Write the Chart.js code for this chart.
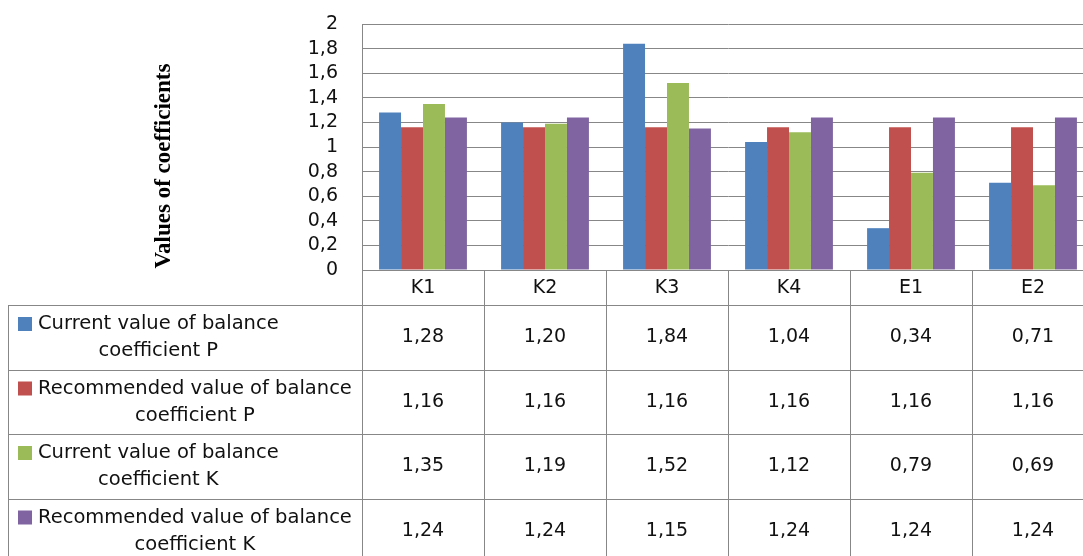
<!DOCTYPE html>
<html>
<head>
<meta charset="utf-8">
<script src="https://cdn.jsdelivr.net/npm/chart.js@4.4.1/dist/chart.umd.min.js"></script>
<style>
    html, body { margin: 0; padding: 0; overflow: hidden; background: #fff; }
    canvas { display: block; }
</style>
</head>
<body>
<canvas id="coeffChart" width="1100" height="556"></canvas>
<script>
// chart data
const categories = ["K1", "K2", "K3", "K4", "E1", "E2"];
const currentP = [1.28, 1.20, 1.84, 1.04, 0.34, 0.71];
const recommendedP = [1.16, 1.16, 1.16, 1.16, 1.16, 1.16];
const currentK = [1.35, 1.19, 1.52, 1.12, 0.79, 0.69];
const recommendedK = [1.24, 1.24, 1.15, 1.24, 1.24, 1.24];
const seriesLabels = [
    ["Current value of balance", "coefficient P"],
    ["Recommended value of balance", "coefficient P"],
    ["Current value of balance", "coefficient K"],
    ["Recommended value of balance", "coefficient K"]
];
const seriesColors = ["#4F81BD", "#C0504D", "#9BBB59", "#8064A2"];
const yAxisTitle = "Values of coefficients";
const yMin = 0, yMax = 2, yStep = 0.2;

const FONT = '"DejaVu Sans", Verdana, sans-serif';
const LINE = "#878787";
const fmt = v => v.toFixed(2).replace(".", ",");

// data table under the plot + the rotated axis title
const tablePlugin = {
    id: "dataTable",
    afterDraw(chart) {
        const ctx = chart.ctx;
        const x = chart.scales.x;
        const area = chart.chartArea;
        const colW = x.getPixelForValue(1) - x.getPixelForValue(0);
        const tableLeft = 8;
        const headerBottom = 305;
        const rowH = 64.5;
        const rowTops = seriesLabels.map((_, i) => headerBottom + i * rowH);
        const bottom = chart.height;
        const allSeries = [currentP, recommendedP, currentK, recommendedK];

        ctx.save();
        ctx.strokeStyle = LINE;
        ctx.lineWidth = 1;
        ctx.beginPath();
        // horizontal lines
        rowTops.forEach(y => {
            ctx.moveTo(tableLeft, Math.round(y) + 0.5);
            ctx.lineTo(chart.width, Math.round(y) + 0.5);
        });
        // verticals
        ctx.moveTo(tableLeft + 0.5, headerBottom);
        ctx.lineTo(tableLeft + 0.5, bottom);
        ctx.moveTo(Math.round(area.left) + 0.5, area.bottom);
        ctx.lineTo(Math.round(area.left) + 0.5, bottom);
        categories.forEach((c, i) => {
            const xr = Math.round(x.getPixelForValue(i) + colW / 2) + 0.5;
            ctx.moveTo(xr, area.bottom);
            ctx.lineTo(xr, bottom);
        });
        ctx.stroke();

        ctx.fillStyle = "#111";
        ctx.font = "19px " + FONT;
        ctx.textAlign = "center";
        ctx.textBaseline = "middle";
        // category header
        categories.forEach((c, i) => {
            ctx.fillText(c, x.getPixelForValue(i), (area.bottom + headerBottom) / 2 + 1);
        });
        // values
        allSeries.forEach((vals, r) => {
            const cy = rowTops[r] + rowH / 2;
            vals.forEach((v, i) => ctx.fillText(fmt(v), x.getPixelForValue(i), cy));
        });
        // legend cells
        ctx.font = "19.5px " + FONT;
        seriesLabels.forEach((lines, r) => {
            const top = rowTops[r];
            ctx.fillStyle = seriesColors[r];
            ctx.fillRect(18, top + 12, 14, 14);
            ctx.fillStyle = "#111";
            const w = Math.max(...lines.map(l => ctx.measureText(l).width));
            lines.forEach((l, k) => ctx.fillText(l, 38 + w / 2, top + 19 + k * 27));
        });

        // y axis title
        ctx.translate(164, 166);
        ctx.rotate(-Math.PI / 2);
        ctx.font = 'bold 23px "Liberation Serif", "Times New Roman", serif';
        ctx.fillStyle = "#000";
        ctx.fillText(yAxisTitle, 0, 0);
        ctx.restore();
    }
};

const ctx = document.getElementById("coeffChart").getContext("2d");
new Chart(ctx, {
    type: "bar",
    data: {
        labels: categories,
        datasets: [currentP, recommendedP, currentK, recommendedK].map((d, i) => ({
            label: seriesLabels[i].join(" "),
            data: d,
            backgroundColor: seriesColors[i],
            borderWidth: 0,
            categoryPercentage: 0.72,
            barPercentage: 1
        }))
    },
    options: {
        responsive: false,
        animation: false,
        devicePixelRatio: 1,
        layout: { padding: { left: 0, top: 24, right: 6, bottom: 286 } },
        plugins: {
            legend: { display: false },
            tooltip: { enabled: false }
        },
        scales: {
            x: {
                ticks: { display: false },
                grid: { display: false, drawTicks: false },
                border: { display: false },
                afterFit: axis => { axis.height = 0; axis.paddingLeft = 0; axis.paddingRight = 0; }
            },
            y: {
                min: yMin,
                max: yMax,
                ticks: {
                    stepSize: yStep,
                    autoSkip: false,
                    padding: 24,
                    color: "#111",
                    font: { family: FONT, size: 19 },
                    callback: v => String(+v.toFixed(1)).replace(".", ",")
                },
                grid: { color: LINE, lineWidth: 1, drawTicks: false },
                border: { display: true, color: LINE, width: 1 },
                afterFit: axis => { axis.width = 362; axis.paddingTop = 0; axis.paddingBottom = 0; }
            }
        }
    },
    plugins: [tablePlugin]
});
</script>
</body>
</html>
